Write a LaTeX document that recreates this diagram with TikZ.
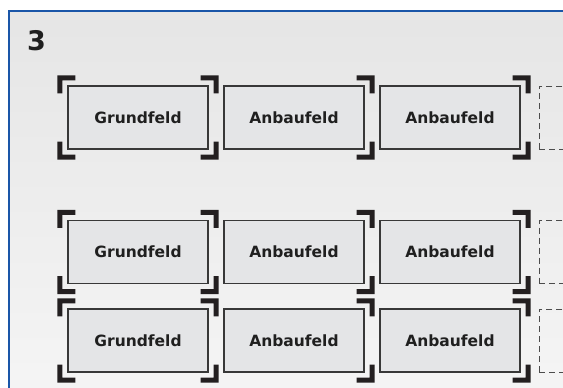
\documentclass[tikz,border=0pt]{standalone}
\usepackage{fontspec}
\setmainfont{DejaVu Sans}
\usepackage{tikz}
\usetikzlibrary{positioning,calc}
\definecolor{rahmenblau}{HTML}{1A56A8}
\definecolor{feldgrau}{HTML}{E4E5E7}
\definecolor{klammerschwarz}{HTML}{231F20}

\begin{document}
\begin{tikzpicture}[x=1pt, y=-1pt,
        feld/.style={rectangle,draw=black!78,line width=1.1pt,fill=feldgrau,
          minimum width=140pt,minimum height=63pt,inner sep=0pt,
          font=\fontsize{15.5}{15.5}\selectfont\bfseries,text=black!88},
        leerfeld/.style={rectangle,draw=black!70,line width=0.8pt,
          dash pattern=on 6pt off 4pt,minimum width=60pt,minimum height=63pt},
        klammer/.style={fill=klammerschwarz}]
        \useasboundingbox (0,0) rectangle (563,388);
        \clip (0,0) rectangle (563,388);
        % hintergrund und rahmen
        \shade[top color=black!10, bottom color=black!4] (9,11) rectangle (570,395);
        \draw[rahmenblau,line width=2.2pt] (9,395) -- (9,11) -- (570,11);
        \node[anchor=base west,inner sep=0pt,font=\fontsize{27}{27}\selectfont\bfseries,text=black!88]
          at (27,50) (nr) {3};
        % erste reihe
        \node[feld] at (138,117.5) (g1) {Grundfeld};
        \node[feld] at (294,117.5) (a11) {Anbaufeld};
        \node[feld] at (450,117.5) (a12) {Anbaufeld};
        \node[leerfeld,anchor=west] at (539,117.5) (d1) {};
        % zweite reihe
        \node[feld] at (138,252) (g2) {Grundfeld};
        \node[feld] at (294,252) (a21) {Anbaufeld};
        \node[feld] at (450,252) (a22) {Anbaufeld};
        \node[leerfeld,anchor=west] at (539,252) (d2) {};
        % dritte reihe
        \node[feld] at (138,340.5) (g3) {Grundfeld};
        \node[feld] at (294,340.5) (a31) {Anbaufeld};
        \node[feld] at (450,340.5) (a32) {Anbaufeld};
        \node[leerfeld,anchor=west] at (539,340.5) (d3) {};
        % linke klammern
        \foreach \n in {g1,g2,g3} {
          \fill[klammer] ($(\n.north west)+(-10,-10)$) -- ++(18,0) -- ++(0,5) -- ++(-13,0)
            -- ++(0,13) -- ++(-5,0) -- cycle;
          \fill[klammer] ($(\n.south west)+(-10,10)$) -- ++(18,0) -- ++(0,-5) -- ++(-13,0)
            -- ++(0,-13) -- ++(-5,0) -- cycle;
        }
        % rechte klammern
        \foreach \n in {g1,a11,a12,g2,a21,a22,g3,a31,a32} {
          \fill[klammer] ($(\n.north east)+(10,-10)$) -- ++(-18,0) -- ++(0,5) -- ++(13,0)
            -- ++(0,13) -- ++(5,0) -- cycle;
          \fill[klammer] ($(\n.south east)+(10,10)$) -- ++(-18,0) -- ++(0,-5) -- ++(13,0)
            -- ++(0,-13) -- ++(5,0) -- cycle;
        }
      \end{tikzpicture}
\end{document}
